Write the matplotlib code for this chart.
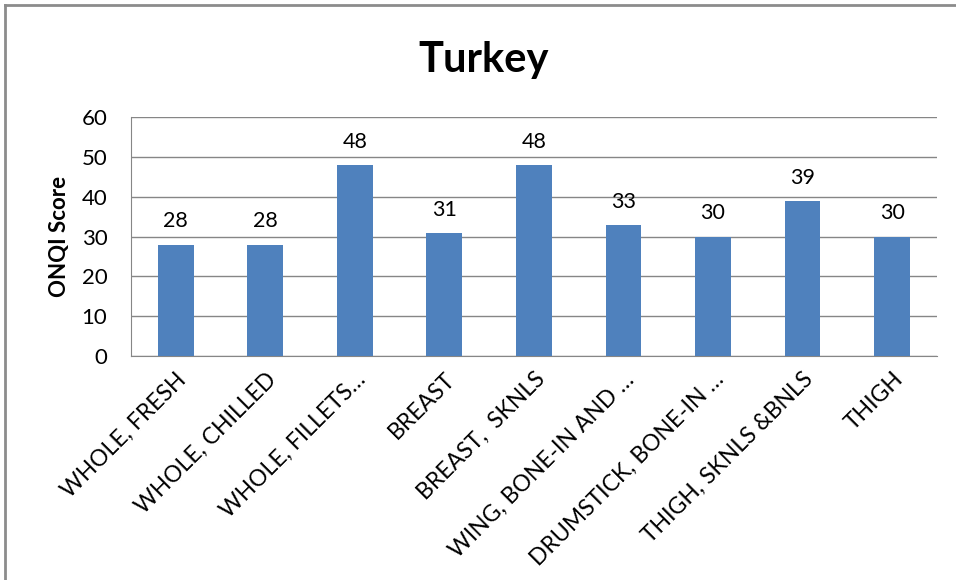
import matplotlib.pyplot as plt
from matplotlib.lines import Line2D

categories = ["WHOLE, FRESH", "WHOLE, CHILLED", "WHOLE, FILLETS…", "BREAST",
              "BREAST,  SKNLS", "WING, BONE-IN AND …", "DRUMSTICK, BONE-IN …",
              "THIGH, SKNLS &BNLS", "THIGH"]
scores = [28, 28, 48, 31, 48, 33, 30, 39, 30]
y_ticks = [0, 10, 20, 30, 40, 50, 60]

plt.rcParams['font.family'] = ['Lato', 'DejaVu Sans']

fig = plt.figure(figsize=(9.56, 5.8), dpi=100)
ax = fig.add_axes([0.137, 0.386, 0.843, 0.412])

x = range(len(categories))
ax.bar(x, scores, width=0.4, color='#4F81BD', zorder=3)
for xi, v in zip(x, scores):
    ax.text(xi, v + 3.3, str(v), ha='center', va='bottom', fontsize=15.5)

ax.set_xlim(-0.5, len(categories) - 0.5)
ax.set_ylim(0, 60)
ax.set_yticks(y_ticks)
ax.tick_params(axis='y', labelsize=16, length=0, pad=17)
ax.tick_params(axis='x', length=0, pad=9)
ax.set_xticks(list(x))
ax.set_xticklabels(categories, rotation=45, ha='right', va='top',
                   rotation_mode='anchor', fontsize=16.5)
ax.yaxis.grid(True, color='#868686', linewidth=1, zorder=0)
for s in ['top', 'right']:
    ax.spines[s].set_visible(False)
ax.spines['left'].set_color('#868686')
ax.spines['bottom'].set_color('#868686')
ax.set_ylabel("ONQI Score", fontsize=16, fontweight='bold', labelpad=8)
fig.text(0.506, 0.897, "Turkey", ha='center', va='center', fontsize=30, fontweight='bold')

# outer frame: only top and left edges are visible in the crop
fig.lines.append(Line2D([0.005, 1.0], [0.991, 0.991], transform=fig.transFigure,
                        color='#8c8c8c', linewidth=2))
fig.lines.append(Line2D([0.005, 0.005], [0.0, 0.991], transform=fig.transFigure,
                        color='#8c8c8c', linewidth=2))

fig.savefig("out.png", dpi=100)
